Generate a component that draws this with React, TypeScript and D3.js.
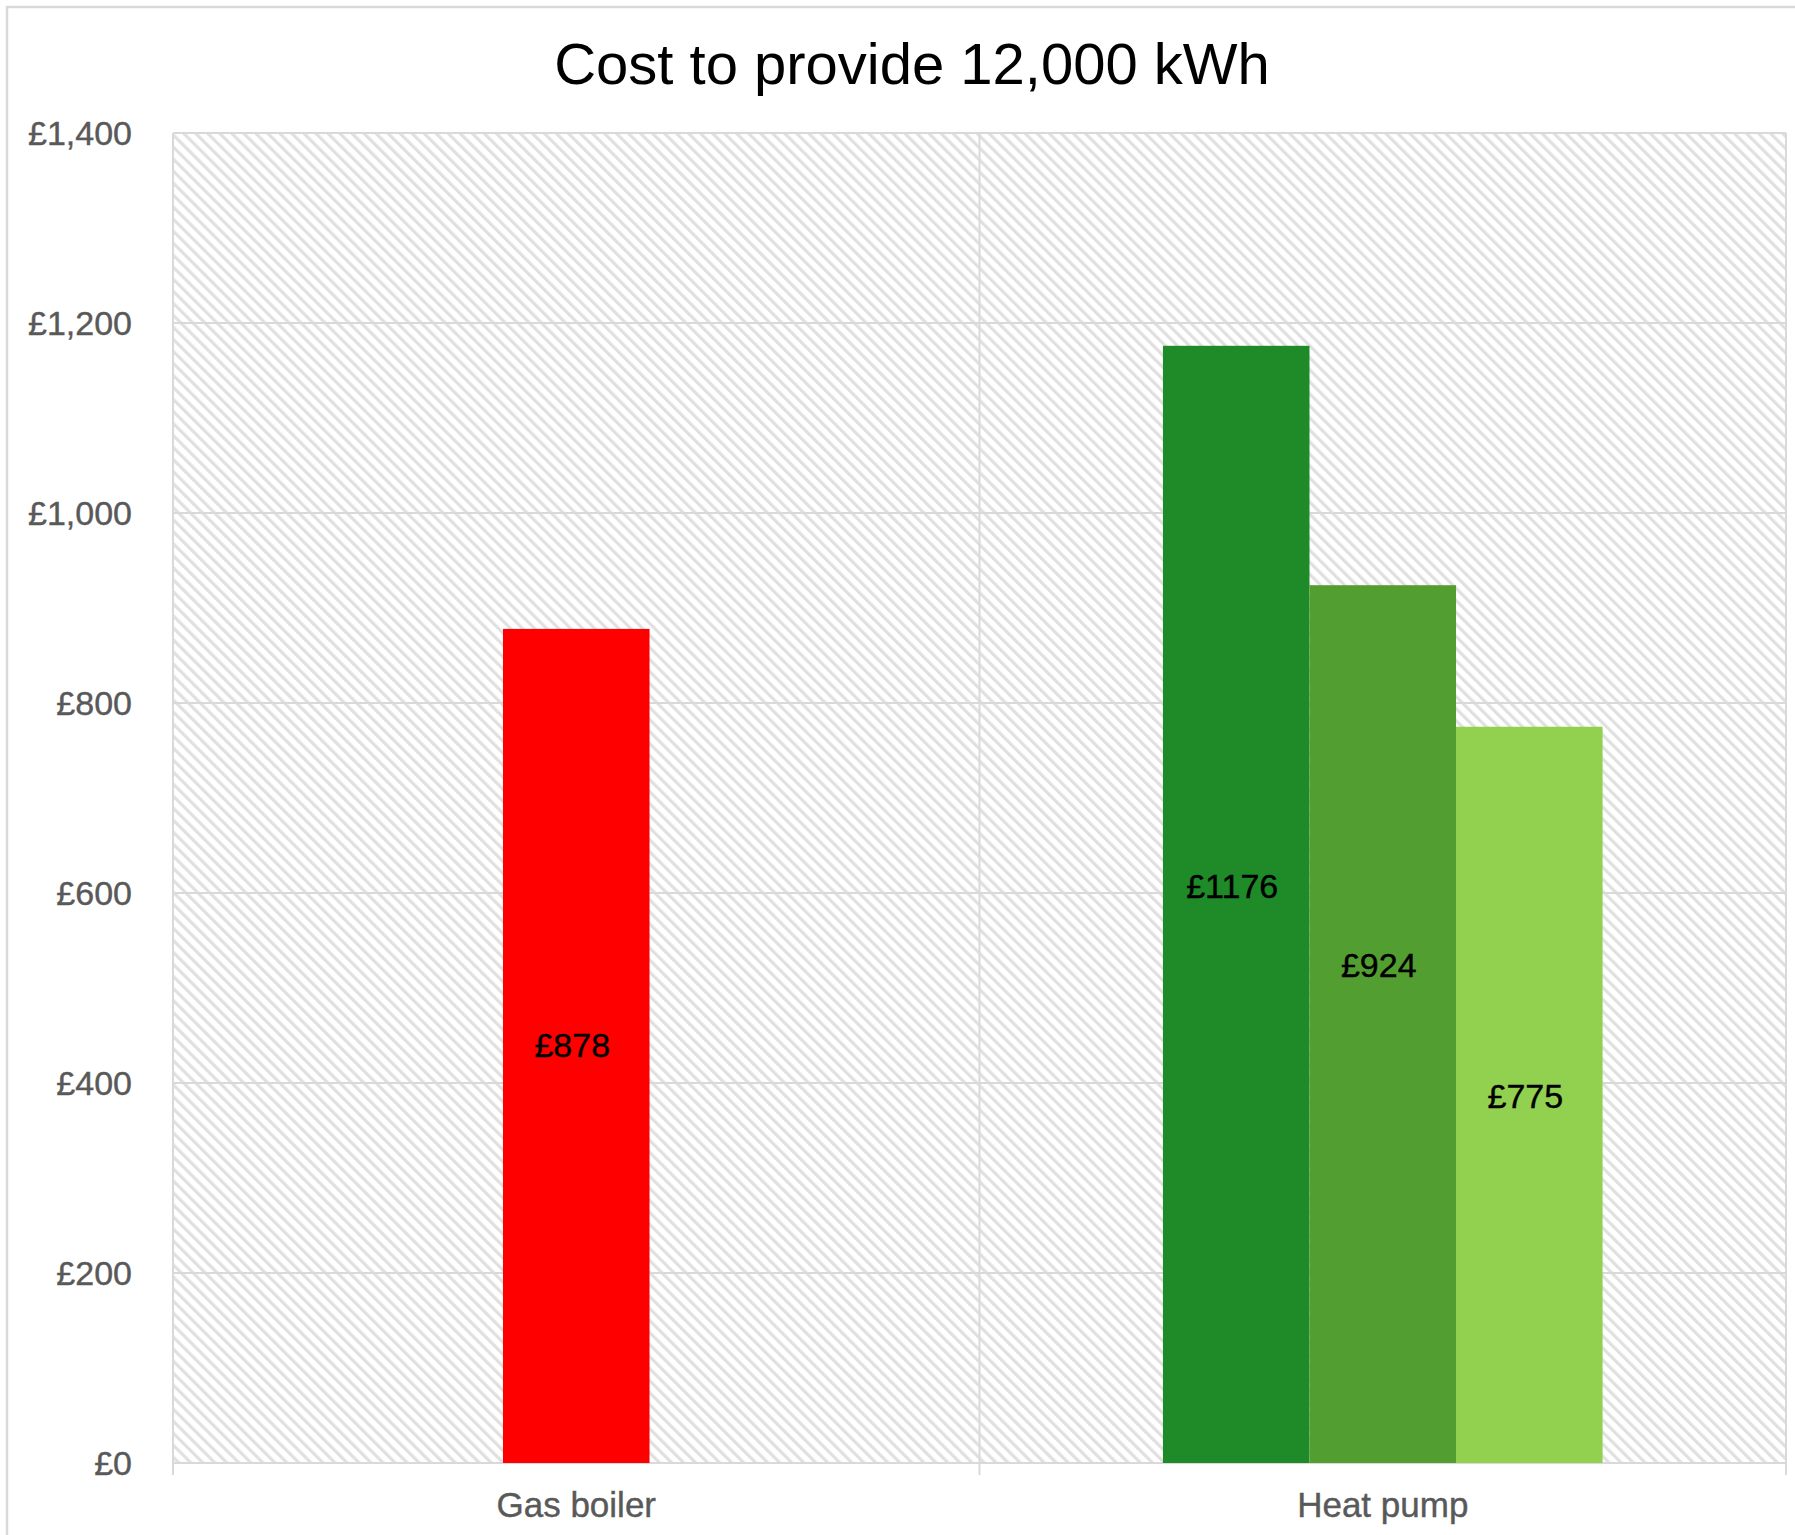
import React from "react";
import * as d3 from "d3";

const title = "Cost to provide 12,000 kWh";
const categories = ["Gas boiler", "Heat pump"];
const gasValues = [878];
const heatPumpValues = [1176, 924, 775];
const gasColors = ["#FF0000"];
const heatPumpColors = ["#1E8A28", "#539E31", "#92D050"];
// value at which each data label sits
const gasLabelAt = [440];
const heatPumpLabelAt = [608, 524, 387];
const yTicks = [0, 200, 400, 600, 800, 1000, 1200, 1400];

const W = 1795;
const H = 1535;
const plot = { left: 173, right: 1786, top: 133, bottom: 1463 };
const FONT = "'Liberation Sans', Arial, sans-serif";

export default function App() {
  const y = d3.scaleLinear().domain([0, 1400]).range([plot.bottom, plot.top]);
  const x = d3.scaleBand().domain(categories).range([plot.left, plot.right]).paddingInner(0).paddingOuter(0);
  const barW = x.bandwidth() * 0.1817;
  const groups = [
    { cat: categories[0], values: gasValues, colors: gasColors, labelAt: gasLabelAt },
    { cat: categories[1], values: heatPumpValues, colors: heatPumpColors, labelAt: heatPumpLabelAt },
  ];
  const fmt = (v: number) => "£" + d3.format(",")(v);

  const sepXs = [plot.left, ...categories.map((c) => (x(c) as number) + x.bandwidth())];

  return (
    <svg width={W} height={H} style={{ position: "absolute", left: 0, top: 0, background: "#fff" }}>
      <defs>
        <pattern id="hatch" patternUnits="userSpaceOnUse" width={8.5} height={8.5} patternTransform="rotate(-45)">
          <rect x={0} y={0} width={8.5} height={8.5} fill="#ffffff" />
          <rect x={0} y={0} width={3.2} height={8.5} fill="#E0E0E0" />
        </pattern>
      </defs>
      <rect x={0} y={0} width={W} height={H} fill="#fff" />
      {/* outer frame */}
      <rect x={7} y={7} width={W + 20} height={H + 20} fill="none" stroke="#D9D9D9" strokeWidth={2.5} />
      {/* title */}
      <text x={912} y={84} textAnchor="middle" fontFamily={FONT} fontSize={58} fill="#000">
        {title}
      </text>
      {/* plot background */}
      <rect x={plot.left} y={plot.top} width={plot.right - plot.left} height={plot.bottom - plot.top} fill="url(#hatch)" />
      {/* horizontal gridlines */}
      {yTicks.map((t) => (
        <line key={t} x1={plot.left} x2={plot.right} y1={y(t)} y2={y(t)} stroke="#D9D9D9" strokeWidth={2} />
      ))}
      {/* vertical separators / ticks */}
      {sepXs.map((sx, i) => (
        <line key={i} x1={sx} x2={sx} y1={plot.top} y2={plot.bottom + 12} stroke="#D9D9D9" strokeWidth={2} />
      ))}
      {/* bars */}
      {groups.map((g) => {
        const center = (x(g.cat) as number) + x.bandwidth() / 2;
        const inner = d3
          .scaleBand<number>()
          .domain(g.values.map((_, i) => i))
          .range([center - (g.values.length * barW) / 2, center + (g.values.length * barW) / 2])
          .padding(0);
        return (
          <g key={g.cat}>
            {g.values.map((v, i) => (
              <rect
                key={i}
                x={inner(i) as number}
                y={y(v)}
                width={inner.bandwidth()}
                height={y(0) - y(v)}
                fill={g.colors[i]}
              />
            ))}
            {g.values.map((v, i) => (
              <text
                key={"l" + i}
                x={(inner(i) as number) + inner.bandwidth() / 2 - 4}
                y={y(g.labelAt[i])}
                dy="0.36em"
                textAnchor="middle"
                fontFamily={FONT}
                fontSize={34}
                fill="#000"
                stroke="#000"
                strokeWidth={0.4}
              >
                {"£" + v}
              </text>
            ))}
          </g>
        );
      })}
      {/* y tick labels */}
      {yTicks.map((t) => (
        <text
          key={"yt" + t}
          x={132}
          y={y(t)}
          dy="0.36em"
          textAnchor="end"
          fontFamily={FONT}
          fontSize={34}
          fill="#595959"
          stroke="#595959"
          strokeWidth={0.4}
        >
          {fmt(t)}
        </text>
      ))}
      {/* x labels */}
      {categories.map((c) => (
        <text
          key={c}
          x={(x(c) as number) + x.bandwidth() / 2}
          y={1517}
          textAnchor="middle"
          fontFamily={FONT}
          fontSize={35}
          fill="#595959"
          stroke="#595959"
          strokeWidth={0.4}
        >
          {c}
        </text>
      ))}
    </svg>
  );
}
